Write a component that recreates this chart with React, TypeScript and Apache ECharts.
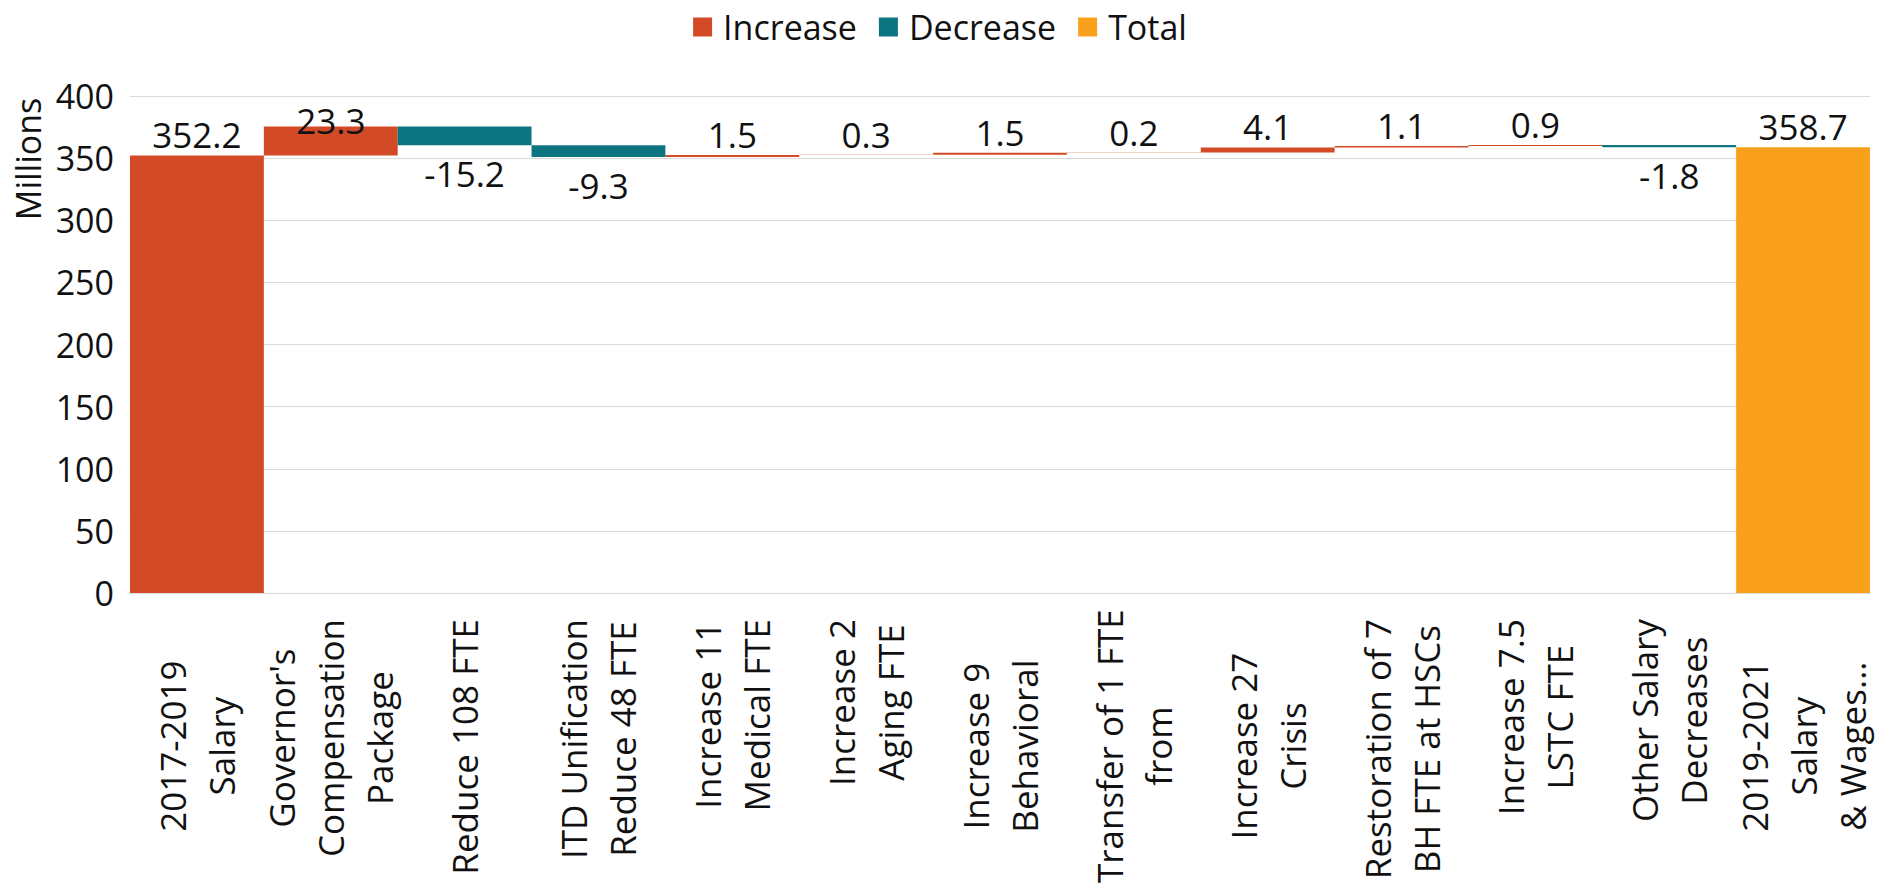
import React, { useEffect, useRef } from "react";
import * as echarts from "echarts";

const categories = [
  "2017-2019\nSalary",
  "Governor's\nCompensation\nPackage",
  "Reduce 108 FTE",
  "ITD Unification\nReduce 48 FTE",
  "Increase 11\nMedical FTE",
  "Increase 2\nAging FTE",
  "Increase 9\nBehavioral",
  "Transfer of 1 FTE\nfrom",
  "Increase 27\nCrisis",
  "Restoration of 7\nBH FTE at HSCs",
  "Increase 7.5\nLSTC FTE",
  "Other Salary\nDecreases",
  "2019-2021\nSalary\n& Wages...",
];
// labels whose text was cut short in the original (centred in the label box)
const truncatedLabels = [0, 6, 7, 8, 12];
const values = [352.2, 23.3, -15.2, -9.3, 1.5, 0.3, 1.5, 0.2, 4.1, 1.1, 0.9, -1.8, 358.7];
const kinds = ["start", "delta", "delta", "delta", "delta", "delta", "delta", "delta", "delta", "delta", "delta", "delta", "total"];
const legendNames = ["Increase", "Decrease", "Total"];
const yTicks = { min: 0, max: 400, interval: 50 };

const FONT = '"Open Sans", "Noto Sans", sans-serif';
const FS = 34;
const FS_L = 35;
const TXT = "#111";
const C_INC = "#D34A27";
const C_DEC = "#0C7580";
const C_TOT = "#F9A11B";

export default function App() {
  const ref = useRef<HTMLDivElement>(null);
  useEffect(() => {
    if (!ref.current) return;
    const chart = echarts.init(ref.current, undefined, { renderer: "svg" });

    const base: any[] = [];
    const inc: any[] = [];
    const dec: any[] = [];
    const tot: any[] = [];
    let cum = 0;
    values.forEach((v, i) => {
      const k = kinds[i];
      if (k === "start") {
        base.push(0); inc.push(v); dec.push("-"); tot.push("-");
        cum = v;
      } else if (k === "total") {
        base.push(0); inc.push("-"); dec.push("-"); tot.push(v);
        cum = v;
      } else if (v >= 0) {
        base.push(+cum.toFixed(2)); inc.push(v); dec.push("-"); tot.push("-");
        cum += v;
      } else {
        cum += v;
        base.push(+cum.toFixed(2)); inc.push("-"); dec.push(-v); tot.push("-");
      }
    });

    const incData = inc.map((v, i) => {
      if (v === "-") return v;
      const top = base[i] + v;
      // label pushed down when it would leave the plot area
      if (top > 370) return { value: v, label: { distance: -12 } };
      return v;
    });

    const labelBase = { show: true, fontSize: FS_L, fontFamily: FONT, color: TXT };

    const option: any = {
      animation: false,
      textStyle: { fontFamily: FONT },
      legend: {
        data: legendNames,
        top: 5,
        left: "center",
        itemWidth: 19,
        itemHeight: 19,
        itemGap: 22,
        icon: "rect",
        textStyle: { fontSize: FS, fontFamily: FONT, color: TXT, padding: [0, 0, 0, 6] },
      },
      grid: { left: 130, right: 10, top: 96, bottom: 291, containLabel: false },
      xAxis: {
        type: "category",
        data: categories,
        axisTick: { show: false },
        axisLine: { show: true, lineStyle: { color: "#D9D9D9" } },
        axisLabel: {
          interval: 0,
          rotate: 90,
          margin: 26,
          color: TXT,
          fontSize: FS_L,
          fontFamily: FONT,
          formatter: (s: string, idx: number) => {
            const key = truncatedLabels.indexOf(idx) >= 0 ? "w" : "c";
            return s.split("\n").map((l) => `{${key}|${l}}`).join("\n");
          },
          rich: {
            c: { align: "center", fontSize: FS_L, fontFamily: FONT, color: TXT, lineHeight: 49 },
            w: { align: "center", width: 254, fontSize: FS_L, fontFamily: FONT, color: TXT, lineHeight: 49 },
          },
        },
      },
      yAxis: {
        type: "value",
        min: yTicks.min,
        max: yTicks.max,
        interval: yTicks.interval,
        axisLine: { show: false },
        axisTick: { show: false },
        axisLabel: { color: TXT, fontSize: FS, fontFamily: FONT, margin: 16 },
        splitLine: { lineStyle: { color: "#D9D9D9", width: 1 } },
      },
      graphic: [
        {
          type: "text",
          x: 28,
          y: 159,
          rotation: Math.PI / 2,
          style: {
            text: "Millions",
            fontSize: FS,
            fontFamily: FONT,
            fill: TXT,
            align: "center",
            verticalAlign: "middle",
            textAlign: "center",
            textVerticalAlign: "middle",
          },
        },
      ],
      series: [
        {
          name: "base",
          type: "bar",
          stack: "all",
          barCategoryGap: "0%",
          itemStyle: { color: "transparent" },
          emphasis: { disabled: true },
          data: base,
          silent: true,
        },
        {
          name: "Increase",
          type: "bar",
          stack: "all",
          barCategoryGap: "0%",
          itemStyle: { color: C_INC },
          label: {
            ...labelBase,
            position: "top",
            distance: 3,
            formatter: (p: any) => Number(p.value).toFixed(1),
          },
          data: incData,
        },
        {
          name: "Decrease",
          type: "bar",
          stack: "all",
          barCategoryGap: "0%",
          itemStyle: { color: C_DEC },
          label: {
            ...labelBase,
            position: "bottom",
            distance: 11,
            formatter: (p: any) => (-Number(p.value)).toFixed(1),
          },
          data: dec,
        },
        {
          name: "Total",
          type: "bar",
          stack: "all",
          barCategoryGap: "0%",
          itemStyle: { color: C_TOT },
          label: {
            ...labelBase,
            position: "top",
            distance: 3,
            formatter: (p: any) => Number(p.value).toFixed(1),
          },
          data: tot,
        },
      ],
    };
    chart.setOption(option);
    return () => chart.dispose();
  }, []);
  return (
    <div
      ref={ref}
      style={{ position: "fixed", left: 0, top: 0, width: 1880, height: 886, background: "#fff" }}
    />
  );
}
